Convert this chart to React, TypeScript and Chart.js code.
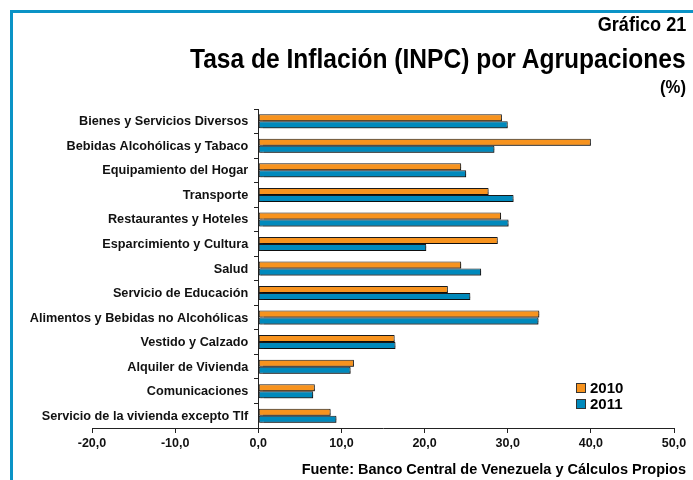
import React, { useEffect, useRef } from "react";
import { Chart, registerables } from "chart.js";

Chart.register(...registerables);

const categories = [
  "Bienes y Servicios Diversos",
  "Bebidas Alcohólicas y Tabaco",
  "Equipamiento del Hogar",
  "Transporte",
  "Restaurantes y Hoteles",
  "Esparcimiento y Cultura",
  "Salud",
  "Servicio de Educación",
  "Alimentos y Bebidas no Alcohólicas",
  "Vestido y Calzado",
  "Alquiler de Vivienda",
  "Comunicaciones",
  "Servicio de la vivienda excepto Tlf",
];

const values2010 = [29.3, 40.0, 24.4, 27.7, 29.2, 28.8, 24.4, 22.8, 33.8, 16.4, 11.5, 6.8, 8.7];
const values2011 = [30.0, 28.4, 25.0, 30.7, 30.1, 20.2, 26.8, 25.5, 33.7, 16.5, 11.1, 6.6, 9.4];

const seriesLabels = ["2010", "2011"];
const seriesColors = ["#F7931E", "#0089BC"];

const xMin = -20;
const xMax = 50;
const xStep = 10;

const FONT = "'Liberation Sans', Arial, sans-serif";

const shadowPlugin = {
  id: "barShadow",
  beforeDatasetsDraw(chart: any) {
    const ctx = chart.ctx;
    ctx.save();
    ctx.shadowColor = "rgba(0,0,0,0.45)";
    ctx.shadowOffsetX = 1.5;
    ctx.shadowOffsetY = 1.5;
    ctx.shadowBlur = 1;
  },
  afterDatasetsDraw(chart: any) {
    chart.ctx.restore();
  },
};

// Category labels drawn to the left of the y axis (which sits at x = 0)
const categoryLabelPlugin = {
  id: "categoryLabels",
  afterDraw(chart: any) {
    const ctx = chart.ctx;
    const xs = chart.scales.x;
    const ys = chart.scales.y;
    const x0 = xs.getPixelForValue(0) - 10;
    ctx.save();
    ctx.font = `bold 12.7px ${FONT}`;
    ctx.fillStyle = "#111";
    ctx.textAlign = "right";
    ctx.textBaseline = "middle";
    (chart.data.labels as string[]).forEach((lab, i) => {
      ctx.fillText(lab, x0, ys.getPixelForValue(i) + 0.5);
    });
    ctx.restore();
  },
};

export default function App() {
  const canvasRef = useRef<HTMLCanvasElement | null>(null);

  useEffect(() => {
    if (!canvasRef.current) return;
    const chart = new Chart(canvasRef.current, {
      type: "bar",
      data: {
        labels: categories,
        datasets: [
          {
            label: seriesLabels[0],
            data: values2010,
            backgroundColor: seriesColors[0],
            borderColor: "#1a1a1a",
            borderWidth: 1,
            borderSkipped: false,
            barPercentage: 1,
            categoryPercentage: 0.57,
          },
          {
            label: seriesLabels[1],
            data: values2011,
            backgroundColor: seriesColors[1],
            borderColor: "#1a1a1a",
            borderWidth: 1,
            borderSkipped: false,
            barPercentage: 1,
            categoryPercentage: 0.57,
          },
        ],
      },
      options: {
        indexAxis: "y",
        responsive: false,
        animation: false,
        layout: { padding: { left: 92, right: 19, top: 109, bottom: 26 } },
        plugins: {
          legend: { display: false },
          tooltip: { enabled: false },
          title: { display: false },
        },
        scales: {
          x: {
            type: "linear",
            min: xMin,
            max: xMax,
            ticks: {
              stepSize: xStep,
              padding: 3,
              color: "#111",
              font: { family: FONT, size: 12.5, weight: "bold" },
              callback: (v: any) => Number(v).toFixed(1).replace(".", ","),
            },
            grid: {
              drawOnChartArea: false,
              drawTicks: true,
              tickLength: 5,
              color: "#222",
            },
            border: { display: true, color: "#222", width: 1 },
          },
          y: {
            type: "category",
            position: { x: 0 } as any,
            ticks: { display: false },
            grid: {
              offset: true,
              drawOnChartArea: false,
              drawTicks: true,
              tickLength: 4,
              color: "#222",
            },
            border: { display: true, color: "#222", width: 1 },
          },
        },
      },
      plugins: [shadowPlugin, categoryLabelPlugin],
    });
    return () => chart.destroy();
  }, []);

  const textBase: React.CSSProperties = {
    position: "absolute",
    right: 7,
    fontFamily: FONT,
    fontWeight: "bold",
    color: "#000",
    lineHeight: 1,
    whiteSpace: "nowrap",
    textAlign: "right",
    transformOrigin: "right center",
  };

  return (
    <div
      style={{
        position: "fixed",
        left: 0,
        top: 0,
        width: 693,
        height: 480,
        background: "#fff",
        overflow: "hidden",
      }}
    >
      <div
        style={{
          position: "absolute",
          left: 10,
          top: 10,
          width: 720,
          height: 520,
          borderTop: "3px solid #0A93C6",
          borderLeft: "3px solid #0A93C6",
        }}
      />
      <canvas
        ref={canvasRef}
        width={693}
        height={480}
        style={{ position: "absolute", left: 0, top: 0, width: 693, height: 480 }}
      />
      <div style={{ ...textBase, top: 15, fontSize: 19.5, transform: "scaleX(0.93)" }}>
        Gráfico 21
      </div>
      <div style={{ ...textBase, top: 46, fontSize: 27, transform: "scaleX(0.91)" }}>
        Tasa de Inflación (INPC) por Agrupaciones
      </div>
      <div style={{ ...textBase, top: 78, fontSize: 18, transform: "scaleX(0.93)" }}>
        (%)
      </div>
      <div style={{ ...textBase, top: 462, fontSize: 14.5 }}>
        Fuente: Banco Central de Venezuela y Cálculos Propios
      </div>
      {seriesLabels.map((s, i) => (
        <div
          key={s}
          style={{
            position: "absolute",
            left: 576,
            top: 380 + i * 16,
            display: "flex",
            alignItems: "center",
            fontFamily: FONT,
            fontWeight: "bold",
            fontSize: 15,
            lineHeight: "15px",
          }}
        >
          <span
            style={{
              display: "inline-block",
              width: 8,
              height: 8,
              background: seriesColors[i],
              border: "1px solid #333",
              marginRight: 4,
            }}
          />
          {s}
        </div>
      ))}
    </div>
  );
}
